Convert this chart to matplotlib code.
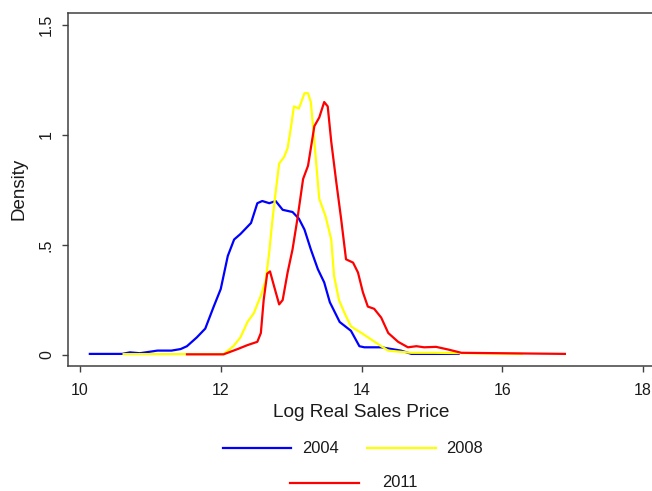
import matplotlib
matplotlib.use("Agg")
import matplotlib.pyplot as plt
from matplotlib.lines import Line2D

plt.rcParams['font.family'] = ['Liberation Sans', 'DejaVu Sans']

# kernel density of log real sales price, by year
x_2004 = [10.14, 10.60, 10.71, 10.85, 11.10, 11.30, 11.43, 11.52, 11.66, 11.78,
          11.90, 12.00, 12.10, 12.19, 12.28, 12.43, 12.52, 12.59, 12.69, 12.78,
          12.88, 13.02, 13.11, 13.19, 13.28, 13.38, 13.47, 13.55, 13.69, 13.85,
          13.97, 14.04, 14.28, 14.56, 14.71, 15.38]
y_2004 = [0.005, 0.005, 0.012, 0.008, 0.02, 0.02, 0.027, 0.04, 0.08, 0.12,
          0.22, 0.30, 0.45, 0.525, 0.55, 0.60, 0.69, 0.70, 0.69, 0.70,
          0.66, 0.65, 0.62, 0.57, 0.48, 0.39, 0.33, 0.24, 0.15, 0.11,
          0.04, 0.035, 0.035, 0.02, 0.005, 0.005]

x_2008 = [10.62, 12.04, 12.18, 12.28, 12.38, 12.47, 12.57, 12.64, 12.69, 12.73,
          12.78, 12.83, 12.90, 12.95, 13.00, 13.04, 13.11, 13.19, 13.24, 13.28,
          13.33, 13.40, 13.49, 13.57, 13.61, 13.68, 13.76, 13.85, 14.00, 14.14,
          14.28, 14.38, 14.71, 15.04, 16.28]
y_2008 = [0.004, 0.004, 0.04, 0.08, 0.15, 0.19, 0.27, 0.34, 0.47, 0.60,
          0.74, 0.87, 0.90, 0.94, 1.04, 1.13, 1.12, 1.19, 1.19, 1.15,
          0.97, 0.71, 0.63, 0.525, 0.36, 0.25, 0.19, 0.13, 0.10, 0.07,
          0.04, 0.02, 0.01, 0.01, 0.005]

x_2011 = [11.52, 12.04, 12.24, 12.38, 12.52, 12.57, 12.61, 12.66, 12.70, 12.76,
          12.83, 12.88, 12.95, 13.02, 13.09, 13.17, 13.24, 13.33, 13.40, 13.47,
          13.52, 13.57, 13.64, 13.71, 13.78, 13.88, 13.95, 14.02, 14.09, 14.18,
          14.28, 14.38, 14.52, 14.66, 14.78, 14.89, 15.06, 15.23, 15.42, 16.89]
y_2011 = [0.003, 0.003, 0.027, 0.045, 0.06, 0.10, 0.25, 0.37, 0.38, 0.31,
          0.23, 0.25, 0.375, 0.48, 0.62, 0.80, 0.86, 1.04, 1.08, 1.15,
          1.13, 0.97, 0.79, 0.62, 0.435, 0.42, 0.375, 0.285, 0.22, 0.21,
          0.17, 0.10, 0.06, 0.035, 0.04, 0.035, 0.037, 0.025, 0.01, 0.005]

x_ticks = [10, 12, 14, 16, 18]
y_ticks = [0, 0.5, 1, 1.5]
y_tick_labels = ['0', '.5', '1', '1.5']

W, H = 652, 491
fig = plt.figure(figsize=(W / 100, H / 100), dpi=100)
ax = fig.add_axes([68.3 / W, 1 - 366 / H, (654 - 68.3) / W, (366 - 12.7) / H])

lw = 1.6
ax.plot(x_2004, y_2004, color='#0000ff', lw=lw)
ax.plot(x_2008, y_2008, color='#ffff00', lw=lw)
ax.plot(x_2011, y_2011, color='#ff0000', lw=lw)

ax.set_xlim(9.834, 18.156)
ax.set_ylim(-0.05, 1.556)
ax.set_xticks(x_ticks)
ax.set_yticks(y_ticks)
ax.set_yticklabels(y_tick_labels, rotation=90, va='center')

spine_col = '#404040'
for s in ax.spines.values():
    s.set_color(spine_col)
    s.set_linewidth(1.1)
ax.spines['right'].set_visible(False)
ax.tick_params(color=spine_col, width=1.0, length=4.3, labelsize=11.5,
               labelcolor='#1a1a1a')
ax.tick_params(axis='x', pad=8)
ax.tick_params(axis='y', pad=6)

ax.set_xlabel('Log Real Sales Price', fontsize=13.7, color='#1a1a1a', labelpad=4)
ax.set_ylabel('Density', fontsize=13.5, color='#1a1a1a', labelpad=8)

# legend drawn below the plot: two entries on top row, one centered below
keys = [
    ('2004', '#0000ff', 222.7, 290.7, 301.7, 448.3),
    ('2008', '#ffff00', 366.7, 436.0, 446.0, 448.3),
    ('2011', '#ff0000', 290.0, 359.0, 381.7, 482.7),
]
for label, col, x0, x1, xt, yy in keys:
    fig.add_artist(Line2D([x0 / W, x1 / W], [1 - yy / H, 1 - yy / H],
                          color=col, lw=lw, transform=fig.transFigure))
    fig.text(xt / W, 1 - yy / H, label, fontsize=11.9, color='#1a1a1a',
             ha='left', va='center')

fig.savefig('out.png', dpi=100)
